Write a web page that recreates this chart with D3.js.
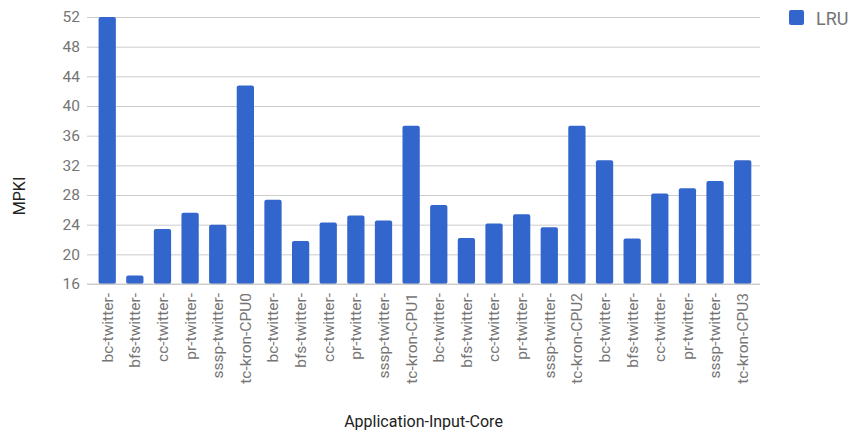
<!DOCTYPE html>
<html>
<head>
<meta charset="utf-8">
<script src="https://cdn.jsdelivr.net/npm/d3@7"></script>
<style>
  body { margin: 0; background: #fff; }
  text { font-family: Roboto, "Noto Sans", sans-serif; }
</style>
</head>
<body>
<svg width="854" height="437"></svg>
<script>
const labels = [
  "bc-twitter-", "bfs-twitter-", "cc-twitter-", "pr-twitter-", "sssp-twitter-", "tc-kron-CPU0",
  "bc-twitter-", "bfs-twitter-", "cc-twitter-", "pr-twitter-", "sssp-twitter-", "tc-kron-CPU1",
  "bc-twitter-", "bfs-twitter-", "cc-twitter-", "pr-twitter-", "sssp-twitter-", "tc-kron-CPU2",
  "bc-twitter-", "bfs-twitter-", "cc-twitter-", "pr-twitter-", "sssp-twitter-", "tc-kron-CPU3"
]
const lru = [
  52.0, 17.15, 23.4, 25.6, 24.0, 42.75,
  27.35, 21.8, 24.3, 25.25, 24.55, 37.35,
  26.65, 22.2, 24.15, 25.4, 23.65, 37.35,
  32.7, 22.15, 28.2, 28.9, 29.9, 32.7
]
const yTicks = [16, 20, 24, 28, 32, 36, 40, 44, 48, 52]
const seriesName = "LRU"

const data = labels.map((l, i) => ({ i: i, label: l, value: lru[i] }))

const svg = d3.select("svg")
const plot = { left: 87, right: 760, top: 17, bottom: 284 }

const xScale = d3.scaleBand()
  .domain(d3.range(data.length))
  .range([93.4, 756.5])
  .paddingInner(0.375)
  .paddingOuter(0.1875)

const yScale = d3.scaleLinear()
  .domain([16, 52])
  .range([plot.bottom, plot.top])

// gridlines
const yAxis = d3.axisLeft(yScale)
  .tickValues(yTicks)
  .tickSize(-(plot.right - plot.left))
  .tickPadding(7)

const yAxisG = svg.append("g")
  .attr("transform", `translate(${plot.left},0)`)
  .call(yAxis)
yAxisG.select(".domain").remove()
yAxisG.selectAll("line").attr("stroke", "#cccccc")
yAxisG.selectAll("text")
  .attr("fill", "#757575")
  .attr("font-size", 15.5)
  .attr("font-family", "Roboto, sans-serif")

// bars
svg.append("g").selectAll("rect")
  .data(data)
  .enter().append("rect")
  .attr("x", d => xScale(d.i))
  .attr("y", d => yScale(d.value))
  .attr("width", xScale.bandwidth())
  .attr("height", d => yScale(16) - yScale(d.value))
  .attr("rx", 2)
  .attr("fill", "#3366cc")

// baseline
svg.append("line")
  .attr("x1", plot.left).attr("x2", plot.right)
  .attr("y1", yScale(16)).attr("y2", yScale(16))
  .attr("stroke", "#cccccc")

// x labels
const xAxis = d3.axisBottom(xScale)
  .tickFormat(i => labels[i])
  .tickSize(0)
const xAxisG = svg.append("g")
  .attr("transform", `translate(0,${plot.bottom})`)
  .call(xAxis)
xAxisG.select(".domain").remove()
xAxisG.selectAll("text")
  .attr("transform", "rotate(-90)")
  .attr("x", -9)
  .attr("y", 0)
  .attr("dy", "0.35em")
  .style("text-anchor", "end")
  .attr("fill", "#757575")
  .attr("font-size", 15.5)
  .attr("font-family", "Roboto, sans-serif")

// axis titles
svg.append("text")
  .attr("transform", "translate(25,196) rotate(-90)")
  .attr("text-anchor", "middle")
  .attr("font-size", 16)
  .attr("fill", "#222")
  .text("MPKI")

svg.append("text")
  .attr("x", (plot.left + plot.right) / 2)
  .attr("y", 427)
  .attr("text-anchor", "middle")
  .attr("font-size", 16)
  .attr("fill", "#222")
  .text("Application-Input-Core")

// legend
const legend = svg.append("g")
legend.append("rect")
  .attr("x", 789).attr("y", 10)
  .attr("width", 15).attr("height", 15)
  .attr("rx", 2)
  .attr("fill", "#3366cc")
legend.append("text")
  .attr("x", 816).attr("y", 24.5)
  .attr("font-size", 18)
  .attr("fill", "#757575")
  .text(seriesName)
</script>
</body>
</html>
